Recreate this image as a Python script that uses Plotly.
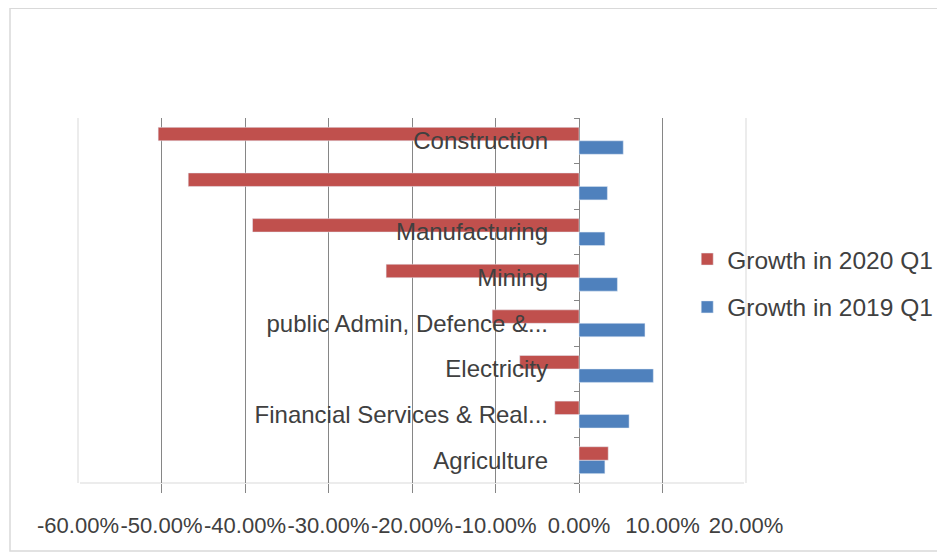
import plotly.graph_objects as go

# Data
categories = ["Agriculture", "Financial Services & Real...", "Electricity",
              "public Admin, Defence &...", "Mining", "Manufacturing",
              "Trade, Hotels & Transport", "Construction"]
tick_labels = ["Agriculture", "Financial Services & Real...", "Electricity",
               "public Admin, Defence &...", "Mining", "Manufacturing",
               "", "Construction"]
growth_2019_q1 = [0.031, 0.060, 0.089, 0.079, 0.046, 0.031, 0.034, 0.053]
growth_2020_q1 = [0.035, -0.029, -0.071, -0.104, -0.231, -0.391, -0.468, -0.504]
x_ticks = [-0.6, -0.5, -0.4, -0.3, -0.2, -0.1, 0.0, 0.1, 0.2]
x_tick_labels = ["-60.00%", "-50.00%", "-40.00%", "-30.00%", "-20.00%",
                 "-10.00%", "0.00%", "10.00%", "20.00%"]

FONT = "Liberation Sans, Arial, sans-serif"
TXT = "#404040"
RED = "#C0504D"
BLUE = "#4F81BD"
DARK = "#868686"
LIGHT = "#D9D9D9"

fig = go.Figure()
fig.add_trace(go.Bar(y=categories, x=growth_2019_q1, orientation="h",
                     name="Growth in 2019 Q1", marker_color=BLUE,
                     legendgroup="g2019", legendrank=2))
fig.add_trace(go.Bar(y=categories, x=growth_2020_q1, orientation="h",
                     name="Growth in 2020 Q1", marker_color=RED,
                     legendgroup="g2020", legendrank=1))

edge_cover = dict(color="white", width=4)
edge_line = dict(color=LIGHT, width=1)

fig.update_layout(
    width=945, height=556,
    margin=dict(l=70, r=207, t=110, b=81, autoexpand=False),
    paper_bgcolor="white", plot_bgcolor="white",
    font=dict(family=FONT, size=24, color=TXT),
    barmode="group", bargap=0.41, bargroupgap=0,
    xaxis=dict(range=[-0.6, 0.2], tickmode="array", tickvals=x_ticks,
               ticktext=x_tick_labels, tickangle=0, showgrid=True,
               gridcolor=DARK, gridwidth=1, zeroline=False, automargin=False,
               showline=False, ticks="outside", ticklen=9, tickcolor=DARK,
               ticklabelstandoff=14,
               tickfont=dict(size=22, color=TXT, family=FONT)),
    yaxis=dict(type="category", categoryorder="array",
               categoryarray=categories, tickmode="array",
               tickvals=categories, ticktext=tick_labels,
               anchor="free", position=0.75, side="left", automargin=False,
               ticks="outside", tickson="boundaries", ticklen=5,
               tickcolor=DARK, showline=False, showgrid=False,
               zeroline=False, ticklabelstandoff=31,
               tickfont=dict(size=24, color=TXT, family=FONT)),
    legend=dict(x=0.912, y=0.675, xanchor="left", yanchor="top",
                traceorder="grouped",
                tracegroupgap=13, bgcolor="rgba(0,0,0,0)",
                font=dict(size=24.5, color=TXT)),
    shapes=[
        # soften the plot-area edges (left / right / bottom) to a light grey
        dict(type="line", xref="paper", yref="paper", x0=0, x1=0, y0=-0.04, y1=1,
             line=edge_cover, layer="above"),
        dict(type="line", xref="paper", yref="paper", x0=1, x1=1, y0=-0.04, y1=1,
             line=edge_cover, layer="above"),
        dict(type="line", xref="paper", yref="paper", x0=0, x1=0, y0=0, y1=1,
             line=edge_line, layer="above"),
        dict(type="line", xref="paper", yref="paper", x0=1, x1=1, y0=0, y1=1,
             line=edge_line, layer="above"),
        dict(type="line", xref="paper", yref="paper", x0=0, x1=1, y0=0, y1=0,
             line=edge_line, layer="below"),
        dict(type="rect", xref="paper", yref="paper",
             x0=-0.1018, x1=1.295, y0=-0.186, y1=1.301,
             line=dict(color=LIGHT, width=1.5), fillcolor="rgba(0,0,0,0)",
             layer="below"),
    ],
)

fig.write_html("out.html")
